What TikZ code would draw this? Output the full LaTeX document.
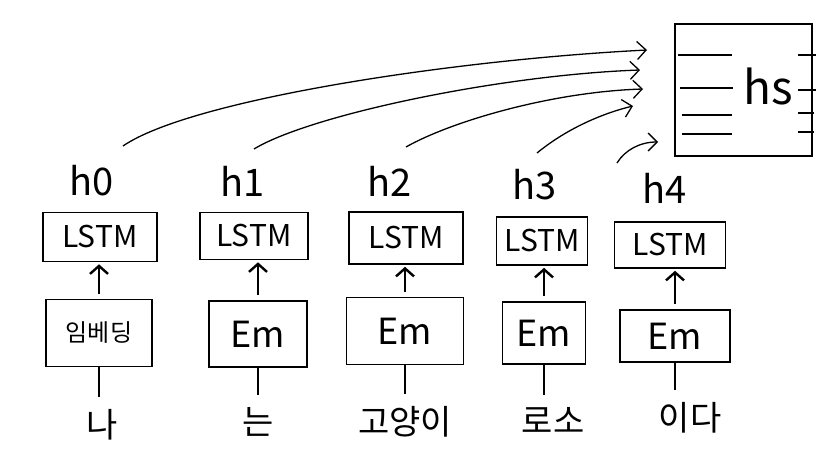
\documentclass[tikz,border=0pt]{standalone}
\usepackage{fontspec}
\setmainfont{Noto Sans CJK KR}
\usetikzlibrary{arrows.meta}

\begin{document}
\begin{tikzpicture}[x=1pt, y=1pt,
  boite/.style={draw, line width=1.6pt, inner sep=0pt},
  lstm/.style={boite, font=\fontsize{30}{30}\selectfont},
  emb/.style={boite, font=\fontsize{36}{36}\selectfont},
  etat/.style={font=\fontsize{38}{38}\selectfont, inner sep=0pt},
  mot/.style={font=\fontsize{34}{34}\selectfont, inner sep=0pt},
  monte/.style={line width=2.4pt, -{Straight Barb[length=8pt,width=18pt]},
    shorten <=5pt, shorten >=2pt},
  fil/.style={line width=2.6pt, shorten >=12pt},
  vers/.style={line width=1.3pt, -{Straight Barb[length=9pt,width=18pt]}}]
  \useasboundingbox (0,0) rectangle (840,-465);
  % Colonne 1 : na
  \node[lstm, minimum width=114pt, minimum height=49pt] (lstmA) at (100,-237) {LSTM};
  \node[emb, minimum width=106pt, minimum height=67pt,
    font=\fontsize{24}{24}\selectfont] (emA) at (99,-333) {임베딩};
  \node[etat] (hA) at (92,-181) {h0};
  \node[mot] (motA) at (102,-425) {나};
  % Colonne 2 : neun
  \node[lstm, minimum width=108pt, minimum height=47pt] (lstmB) at (254,-236) {LSTM};
  \node[emb, minimum width=98pt, minimum height=66pt] (emB) at (258,-334) {Em};
  \node[etat] (hB) at (243,-181) {h1};
  \node[mot] (motB) at (258,-422) {는};
  % Colonne 3 : goyangi
  \node[lstm, minimum width=114pt, minimum height=52pt] (lstmC) at (406,-238) {LSTM};
  \node[emb, minimum width=117pt, minimum height=67pt] (emC) at (405,-331) {Em};
  \node[etat] (hC) at (390,-181) {h2};
  \node[mot] (motC) at (405,-422) {고양이};
  % Colonne 4 : roso
  \node[lstm, minimum width=91pt, minimum height=48pt] (lstmD) at (542,-241) {LSTM};
  \node[emb, minimum width=83pt, minimum height=62pt] (emD) at (544,-333) {Em};
  \node[etat] (hD) at (535,-185) {h3};
  \node[mot] (motD) at (553,-420) {로소};
  % Colonne 5 : ida
  \node[lstm, minimum width=111pt, minimum height=46pt] (lstmE) at (670,-245) {LSTM};
  \node[emb, minimum width=110pt, minimum height=52pt] (emE) at (675,-336) {Em};
  \node[etat] (hE) at (665,-188) {h4};
  \node[mot] (motE) at (690,-418) {이다};
  % Liaisons verticales
  \foreach \c in {A,B,C,D,E} {
    \draw[monte] (em\c.north) -- (em\c.north |- lstm\c.south);
    \draw[fil] (em\c.south) -- (em\c.south |- mot\c.north);
  }
  % Bloc hs
  \node[boite, minimum width=137pt, minimum height=132pt] (hs) at (743.5,-90) {};
  \node[font=\fontsize{46}{46}\selectfont, inner sep=0pt] (hsnom) at (768,-86) {hs};
  \draw[line width=1.3pt] (678,-55) -- (732,-55) (680,-88) -- (733,-88)
    (682,-115) -- (732,-115) (682,-134) -- (732,-134);
  \draw[line width=1.3pt] (798,-55) -- (816,-55) (798,-90) -- (816,-90)
    (798,-113) -- (814,-113) (798,-132) -- (814,-132);
  % Sorties vers hs
  \coordinate (sA) at (123,-146); \coordinate (eA) at (647,-50);
  \coordinate (sB) at (254,-149); \coordinate (eB) at (640,-70);
  \coordinate (sC) at (406,-147); \coordinate (eC) at (643,-89);
  \coordinate (sD) at (537,-153); \coordinate (eD) at (633,-106);
  \coordinate (sE) at (617,-163); \coordinate (eE) at (658,-142);
  \draw[vers] (sA) .. controls (190,-100) and (450,-60) .. (eA);
  \draw[vers] (sB) .. controls (310,-115) and (500,-75) .. (eB);
  \draw[vers] (sC) .. controls (450,-122) and (550,-92) .. (eC);
  \draw[vers] (sD) .. controls (565,-130) and (600,-114) .. (eD);
  \draw[vers] (sE) .. controls (625,-150) and (640,-142) .. (eE);
\end{tikzpicture}
\end{document}
